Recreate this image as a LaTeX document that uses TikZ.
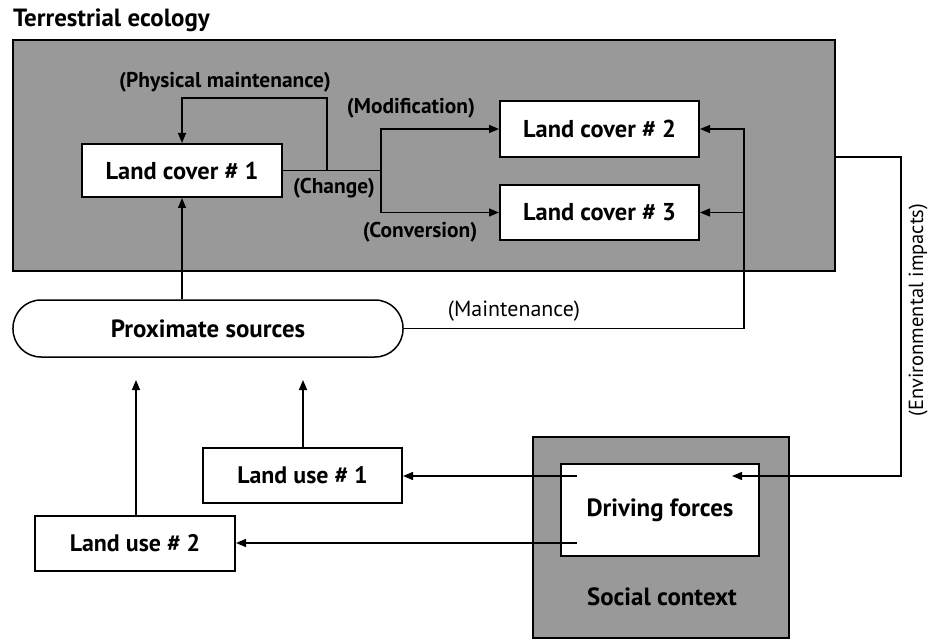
\documentclass[tikz,border=0pt]{standalone}
\usepackage{fontspec}
\setmainfont{PT Sans}
\usetikzlibrary{arrows.meta,calc}
\definecolor{texgrey}{gray}{0.6}
\newcommand{\fsz}[1]{\fontsize{#1}{#1}\selectfont}
\begin{document}
\begin{tikzpicture}[x=1bp,y=-1bp,
  boxlbl/.style={font=\bfseries\fsz{24.5}},
  plbl/.style={font=\bfseries\fsz{21.5}, inner sep=1pt},
  rlbl/.style={font=\fsz{22}, inner sep=1pt},
  whitebox/.style={draw, line width=2bp, fill=white, inner sep=0pt},
  conn/.style={line width=1.3bp},
  arr/.style={conn, -{Triangle[length=10bp,width=8bp]}},
  area/.style={draw, line width=2.4bp, fill=texgrey}
]
\useasboundingbox (0,0) rectangle (928,639);

% areas
\node[area, minimum width=822bp, minimum height=231bp, inner sep=0pt] (terr) at (424,155.5) {};
\node[anchor=base west, font=\bfseries\fsz{25}, inner sep=0pt] (terrlbl) at (13,27) {Terrestrial ecology};
\node[area, minimum width=256bp, minimum height=201bp, inner sep=0pt] (soc) at (661,537.5) {};
\node[font=\bfseries\fsz{25}, inner sep=0pt] (soclbl) at (662,597) {Social context};

% boxes
\node[whitebox, boxlbl, minimum width=200bp, minimum height=53bp] (lc1) at (182,170.5) {Land cover \# 1};
\node[whitebox, boxlbl, minimum width=199bp, minimum height=56bp] (lc2) at (599.5,129) {Land cover \# 2};
\node[whitebox, boxlbl, minimum width=199bp, minimum height=55bp] (lc3) at (599.5,212.5) {Land cover \# 3};
\node[whitebox, boxlbl, font=\bfseries\fsz{25}, rounded corners=28bp, line width=1.5bp, minimum width=390bp, minimum height=57bp] (prox) at (208,328.5) {Proximate sources};
\node[whitebox, boxlbl, font=\bfseries\fsz{24}, minimum width=199bp, minimum height=55bp] (lu1) at (302.5,475.5) {Land use \# 1};
\node[whitebox, boxlbl, font=\bfseries\fsz{24}, minimum width=200bp, minimum height=55bp] (lu2) at (135,543.5) {Land use \# 2};
\node[whitebox, boxlbl, font=\bfseries\fsz{25}, minimum width=198bp, minimum height=92bp] (df) at (660,510) {Driving forces};

% coordinates
\coordinate (split) at (381,170.5);
\coordinate (pmc) at (327,170.5);
\coordinate (mvx) at (744,328.5);
\coordinate (ex) at (901,157);
\coordinate (dfin) at (732,476);
\coordinate (df1) at (577,476);
\coordinate (df2) at (577,543);
\coordinate (tip1) at (303,380);
\coordinate (tip2) at (136,380);

% physical maintenance loop and change
\draw[conn] (lc1.east) -- (split);
\draw[arr] (pmc) |- (182,98) -- (lc1.north);
\draw[arr] (split) |- (lc2.west);
\draw[arr] (split) |- (lc3.west);

% proximate to land cover 1
\draw[arr] (prox.north -| lc1.south) -- (lc1.south);

% maintenance
\draw[conn] (prox.east) -- (mvx);
\draw[arr] (mvx) |- (lc2.east);
\draw[arr] (mvx |- lc3.east) -- (lc3.east);

% environmental impacts
\draw[arr] (terr.east |- ex) -- (ex) |- (dfin);

% driving forces to land use
\draw[arr] (df1) -- (lu1.east |- df1);
\draw[arr] (df2) -- (lu2.east |- df2);

% land use up
\draw[arr] (lu1.north -| tip1) -- (tip1);
\draw[arr] (lu2.north -| tip2) -- (tip2);

% labels
\node[plbl] (lpm) at (225,82) {(Physical maintenance)};
\node[plbl] (lmod) at (411,108) {(Modification)};
\node[plbl] (lchg) at (334,188) {(Change)};
\node[plbl] (lconv) at (420,232) {(Conversion)};
\node[rlbl] (lmaint) at (514,311) {(Maintenance)};
\node[rlbl, font=\fsz{20.5}, rotate=90] (lenv) at (918,310) {(Environmental impacts)};
\end{tikzpicture}
\end{document}
